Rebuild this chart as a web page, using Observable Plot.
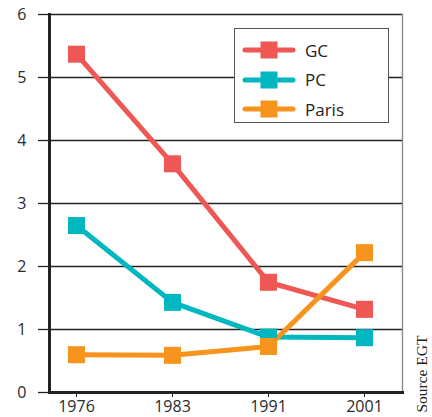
<!DOCTYPE html>
<html>
<head>
<meta charset="utf-8">
<script src="https://cdn.jsdelivr.net/npm/d3@7"></script>
<script src="https://cdn.jsdelivr.net/npm/@observablehq/plot@0.6"></script>
<style>
  html, body { margin: 0; padding: 0; background: #fff; }
  #wrap { position: relative; width: 432px; height: 417px; overflow: hidden; font-family: "Open Sans", sans-serif; }
  #legend { position: absolute; left: 234px; top: 28px; width: 155px; height: 95px; background: #fff; border: 1px solid #555; box-sizing: border-box; }
  .item { position: absolute; left: 7px; height: 20px; display: flex; align-items: center; }
  .item span { font-size: 17px; color: #222; margin-left: 9px; }
</style>
</head>
<body>
<div id="wrap"></div>
<script>
const years = ["1976", "1983", "1991", "2001"];
const seriesNames = ["GC", "PC", "Paris"];
const seriesColors = ["#EE5753", "#00B7BF", "#F7941D"];
const gcValues = [5.37, 3.63, 1.75, 1.32];
const pcValues = [2.65, 1.43, 0.88, 0.87];
const parisValues = [0.60, 0.59, 0.73, 2.22];
const yTicks = [0, 1, 2, 3, 4, 5, 6];
const sourceText = ["Source EGT"];

const valuesBySeries = [gcValues, pcValues, parisValues];
const data = [];
seriesNames.forEach((s, i) => years.forEach((y, j) => data.push({series: s, year: y, value: valuesBySeries[i][j]})));

const chart = Plot.plot({
  width: 432,
  height: 417,
  marginLeft: 49,
  marginRight: 30,
  marginTop: 14,
  marginBottom: 25,
  style: {fontFamily: "'Open Sans', sans-serif", background: "#fff"},
  x: {type: "point", domain: years, range: [75, 364], padding: 0},
  y: {domain: [0, 6]},
  color: {domain: seriesNames, range: seriesColors},
  marks: [
    Plot.gridY(yTicks, {stroke: "#222", strokeOpacity: 1, strokeWidth: 1.3}),
    Plot.frame({anchor: "right", stroke: "#888", strokeWidth: 1.3}),
    Plot.axisY(yTicks, {tickSize: 11, tickPadding: 12, fontSize: 16, fill: "#2a2a2a", stroke: "#222", strokeWidth: 1.3, label: null, tickFormat: d => String(d)}),
    Plot.axisX({tickSize: 5, tickPadding: 3, fontSize: 16, fill: "#2a2a2a", stroke: "#222", label: null}),
    Plot.frame({anchor: "left", stroke: "#222", strokeWidth: 3}),
    Plot.frame({anchor: "bottom", stroke: "#222", strokeWidth: 3}),
    Plot.line(data, {x: "year", y: "value", z: "series", stroke: "series", strokeWidth: 5}),
    Plot.dot(data, {x: "year", y: "value", fill: "series", symbol: "square", r: 9.6}),
    Plot.text(sourceText, {frameAnchor: "top-right", rotate: -90, textAnchor: "end", lineAnchor: "middle", dx: 20, dy: 321, fontSize: 15.5, fontFamily: "'Liberation Serif', serif", fill: "#222"})
  ]
});

const wrap = document.getElementById("wrap");
wrap.appendChild(chart);

const legend = document.createElement("div");
legend.id = "legend";
seriesNames.forEach((s, i) => {
  const item = document.createElement("div");
  item.className = "item";
  item.style.top = (11 + i * 29.5) + "px";
  item.innerHTML = `<svg width="54" height="20"><line x1="3" x2="51" y1="10" y2="10" stroke="${seriesColors[i]}" stroke-width="5" stroke-linecap="round"/><rect x="18.5" y="1.5" width="17" height="17" fill="${seriesColors[i]}"/></svg><span>${s}</span>`;
  legend.appendChild(item);
});
wrap.appendChild(legend);
</script>
</body>
</html>
